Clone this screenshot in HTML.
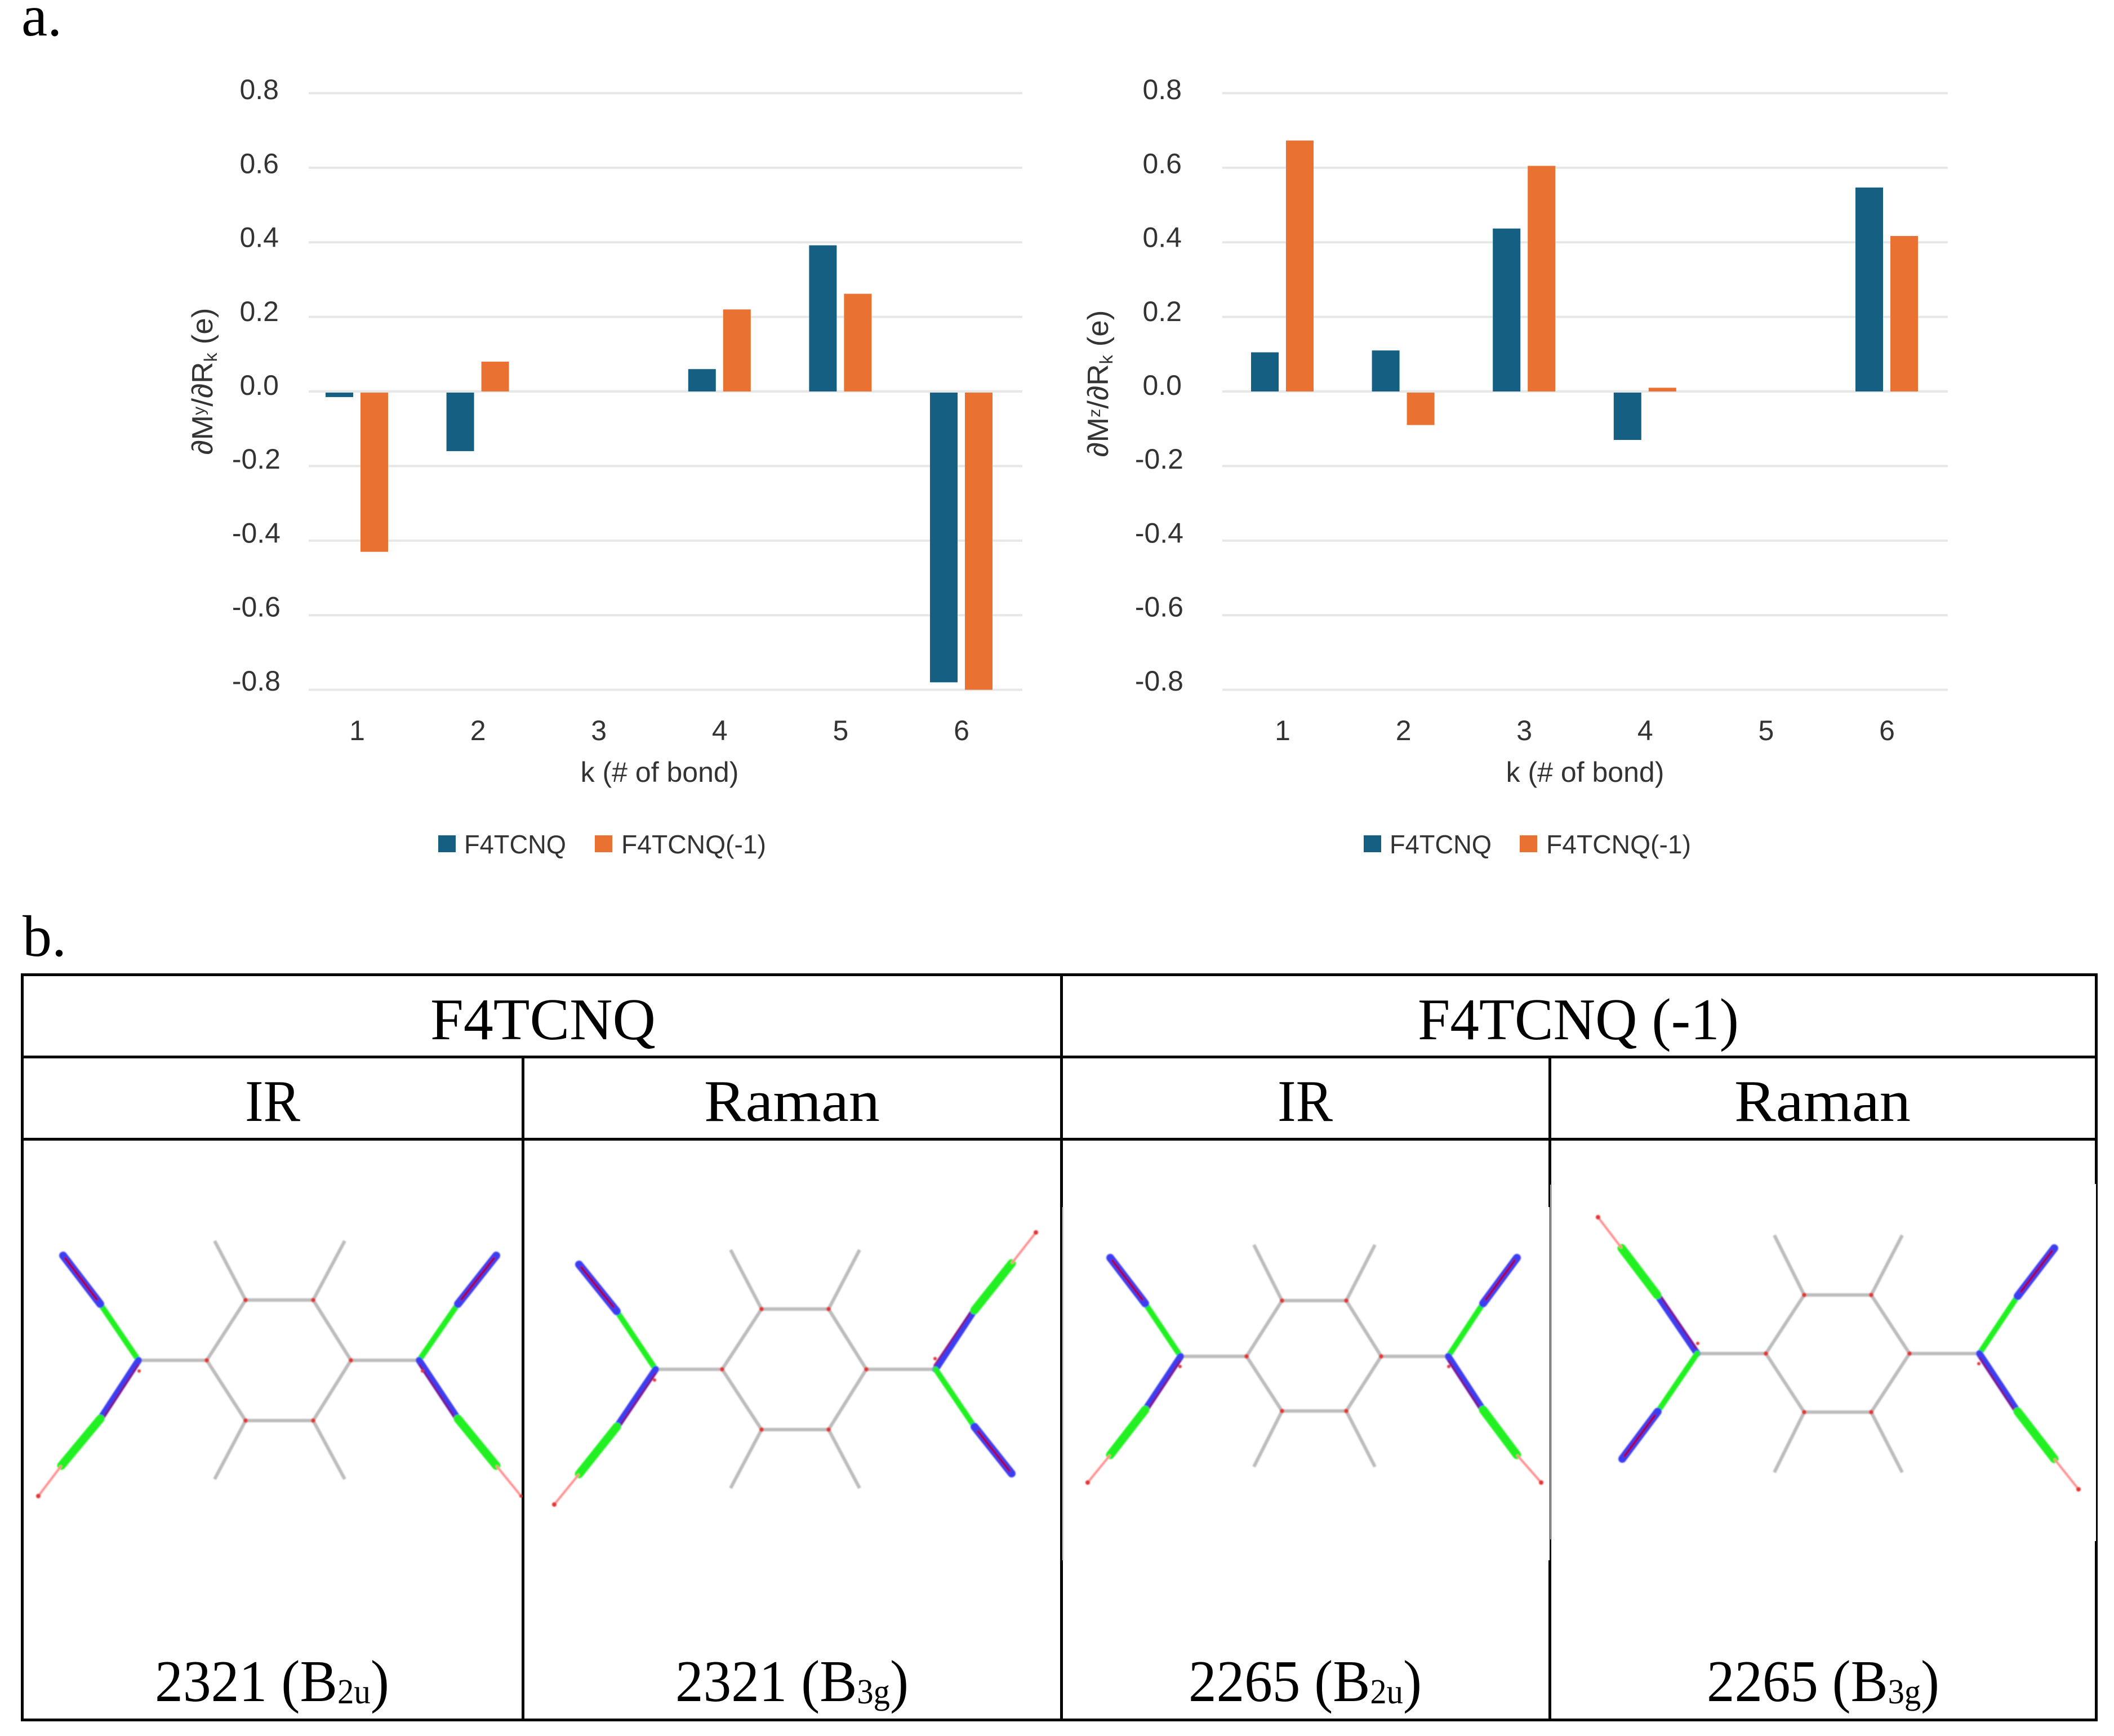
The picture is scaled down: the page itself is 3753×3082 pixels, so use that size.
<!DOCTYPE html>
<html lang="en">
<head>
<meta charset="utf-8">
<title>F4TCNQ charge flux and vibrational modes</title>
<style>
html,body{margin:0;padding:0;background:#fff;width:3753px;height:3082px;overflow:hidden}
svg{display:block}
.sans{font-family:"Liberation Sans","DejaVu Sans",sans-serif;fill:#333}
.serif{font-family:"Liberation Serif","DejaVu Serif",serif;fill:#000}
.ln{fill:#000}
.gray{fill:none;stroke:#bbb;stroke-width:6}
.g1{stroke:#22f022;stroke-width:10;stroke-linecap:round}
.g2{stroke:#22f022;stroke-width:15;stroke-linecap:round}
.b{stroke:#3c3cf0;stroke-width:12;stroke-linecap:round}
.b2{stroke:#3c3cf0;stroke-width:14;stroke-linecap:round}
.core{stroke:#a00050;stroke-width:4.5;stroke-linecap:round}
.edge{stroke:#a00050;stroke-width:3.5;opacity:.7}
.pk{stroke:#ff8f8f;stroke-width:4}
.dot{fill:#e03535}
</style>
</head>
<body>
<svg id="figure" xmlns="http://www.w3.org/2000/svg" width="3753" height="3082" viewBox="0 0 3753 3082">
<defs><filter id="soft" x="-5%" y="-5%" width="110%" height="110%"><feGaussianBlur stdDeviation="1.1"/></filter></defs>
<rect width="3753" height="3082" fill="#fff"/>

<text class="serif" x="38" y="63" font-size="104">a.</text>
<text class="serif" x="40" y="1697" font-size="104">b.</text>

<g id="chart-y"></g>
<g id="chart-z"></g>

<g>
  <g>
    <rect class="ln" x="37" y="1728" width="3687" height="5"/>
    <rect class="ln" x="37" y="1874" width="3687" height="5"/>
    <rect class="ln" x="37" y="2020" width="3687" height="5"/>
    <rect class="ln" x="37" y="3051" width="3687" height="5"/>
    <rect class="ln" x="37" y="1728" width="5" height="1328"/>
    <rect class="ln" x="926" y="1874" width="5" height="1182"/>
    <rect class="ln" x="1882" y="1728" width="5" height="415"/>
    <rect class="ln" x="1882" y="2143" width="4" height="627"/>
    <rect x="1886" y="2143" width="3" height="627" fill="#dcdcdc"/>
    <rect class="ln" x="1882" y="2770" width="5" height="286"/>
    <rect class="ln" x="2749" y="1874" width="5" height="269"/>
    <rect class="ln" x="2751" y="2143" width="1.5" height="627"/>
    <rect x="2752" y="2103" width="3" height="630" fill="#a8a8a8"/>
    <rect class="ln" x="2751" y="2733" width="3" height="37"/>
    <rect class="ln" x="2749" y="2770" width="5" height="286"/>
    <rect class="ln" x="3719" y="1728" width="5" height="374"/>
    <rect class="ln" x="3721" y="2102" width="3" height="634"/>
    <rect class="ln" x="3719" y="2736" width="5" height="320"/>
  </g>

  <text class="serif" x="764" y="1845" font-size="105" textLength="400" lengthAdjust="spacingAndGlyphs">F4TCNQ</text>
  <text class="serif" x="2517" y="1845" font-size="105" textLength="570" lengthAdjust="spacingAndGlyphs">F4TCNQ (-1)</text>
  <text class="serif" x="435" y="1990" font-size="105" textLength="98" lengthAdjust="spacingAndGlyphs">IR</text>
  <text class="serif" x="1250" y="1990" font-size="105" textLength="312" lengthAdjust="spacingAndGlyphs">Raman</text>
  <text class="serif" x="2268" y="1990" font-size="105" textLength="98" lengthAdjust="spacingAndGlyphs">IR</text>
  <text class="serif" x="3079" y="1990" font-size="105" textLength="313" lengthAdjust="spacingAndGlyphs">Raman</text>

  <text class="serif" x="275" y="3020" font-size="105" textLength="416" lengthAdjust="spacingAndGlyphs">2321 (B<tspan font-size="62" dy="4">2u</tspan><tspan dy="-4">)</tspan></text>
  <text class="serif" x="1199" y="3020" font-size="105" textLength="414" lengthAdjust="spacingAndGlyphs">2321 (B<tspan font-size="62" dy="4">3g</tspan><tspan dy="-4">)</tspan></text>
  <text class="serif" x="2110" y="3020" font-size="105" textLength="414" lengthAdjust="spacingAndGlyphs">2265 (B<tspan font-size="62" dy="4">2u</tspan><tspan dy="-4">)</tspan></text>
  <text class="serif" x="3030" y="3020" font-size="105" textLength="413" lengthAdjust="spacingAndGlyphs">2265 (B<tspan font-size="62" dy="4">3g</tspan><tspan dy="-4">)</tspan></text>

  <g filter="url(#soft)">
    <path class="gray" d="M246 2415H367L436 2308H556L623 2415H744M367 2415L436 2522H556L623 2415M436 2308L381 2203M556 2308L612 2203M436 2522L381 2626M556 2522L612 2626"/>
    <line class="g1" x1="246" y1="2415" x2="178" y2="2315"/><line class="b2" x1="178" y1="2315" x2="112" y2="2229"/><line class="core" x1="172" y1="2307" x2="116" y2="2234"/>
    <line class="b" x1="246" y1="2415" x2="178" y2="2519"/><line class="edge" x1="246" y1="2422" x2="181" y2="2521"/><line class="g2" x1="178" y1="2519" x2="109" y2="2602"/><line class="pk" x1="109" y1="2602" x2="68" y2="2656"/>
    <line class="g1" x1="744" y1="2415" x2="813" y2="2315"/><line class="b2" x1="813" y1="2315" x2="881" y2="2229"/><line class="core" x1="819" y1="2307" x2="877" y2="2234"/>
    <line class="b" x1="744" y1="2415" x2="813" y2="2519"/><line class="edge" x1="744" y1="2422" x2="810" y2="2521"/><line class="g2" x1="813" y1="2519" x2="881" y2="2602"/><line class="pk" x1="881" y1="2602" x2="925" y2="2656"/>
    <circle class="dot" cx="367" cy="2415" r="4"/><circle class="dot" cx="436" cy="2308" r="4"/><circle class="dot" cx="556" cy="2308" r="4"/><circle class="dot" cx="623" cy="2415" r="4"/><circle class="dot" cx="436" cy="2522" r="4"/><circle class="dot" cx="556" cy="2522" r="4"/><circle class="dot" cx="68" cy="2656" r="4"/><circle class="dot" cx="925" cy="2656" r="3"/><circle class="dot" cx="247" cy="2434" r="3"/><circle class="dot" cx="750" cy="2434" r="3"/>
  </g>

  <g filter="url(#soft)">
    <path class="gray" d="M1164 2431H1282L1352 2324H1471L1538 2431H1661M1282 2431L1352 2538H1471L1538 2431M1352 2324L1297 2219M1471 2324L1526 2219M1352 2538L1297 2642M1471 2538L1526 2642"/>
    <line class="g1" x1="1164" y1="2431" x2="1095" y2="2328"/><line class="b2" x1="1095" y1="2328" x2="1028" y2="2245"/><line class="core" x1="1089" y1="2320" x2="1032" y2="2250"/>
    <line class="b" x1="1164" y1="2431" x2="1095" y2="2533"/><line class="edge" x1="1164" y1="2438" x2="1098" y2="2535"/><line class="g2" x1="1095" y1="2533" x2="1028" y2="2617"/><line class="pk" x1="1028" y1="2617" x2="984" y2="2671"/>
    <line class="b" x1="1661" y1="2431" x2="1730" y2="2326"/><line class="edge" x1="1658" y1="2425" x2="1727" y2="2324"/><line class="g2" x1="1730" y1="2326" x2="1796" y2="2243"/><line class="pk" x1="1796" y1="2243" x2="1839" y2="2188"/>
    <line class="g1" x1="1661" y1="2431" x2="1730" y2="2533"/><line class="b2" x1="1730" y1="2533" x2="1796" y2="2616"/><line class="core" x1="1736" y1="2541" x2="1792" y2="2611"/>
    <circle class="dot" cx="1282" cy="2431" r="4"/><circle class="dot" cx="1352" cy="2324" r="4"/><circle class="dot" cx="1471" cy="2324" r="4"/><circle class="dot" cx="1538" cy="2431" r="4"/><circle class="dot" cx="1352" cy="2538" r="4"/><circle class="dot" cx="1471" cy="2538" r="4"/><circle class="dot" cx="984" cy="2671" r="4"/><circle class="dot" cx="1839" cy="2188" r="4"/><circle class="dot" cx="1162" cy="2450" r="3"/><circle class="dot" cx="1660" cy="2412" r="3"/>
  </g>

  <g filter="url(#soft)">
    <path class="gray" d="M2096 2408H2213L2276 2309H2390L2452 2408H2571M2213 2408L2276 2505H2390L2452 2408M2276 2309L2226 2210M2390 2309L2441 2210M2276 2505L2226 2604M2390 2505L2441 2604"/>
    <line class="g1" x1="2096" y1="2408" x2="2033" y2="2314"/><line class="b2" x1="2033" y1="2314" x2="1971" y2="2233"/><line class="core" x1="2028" y1="2307" x2="1975" y2="2238"/>
    <line class="b" x1="2096" y1="2408" x2="2033" y2="2503"/><line class="edge" x1="2096" y1="2415" x2="2036" y2="2505"/><line class="g2" x1="2033" y1="2503" x2="1971" y2="2583"/><line class="pk" x1="1971" y1="2583" x2="1931" y2="2632"/>
    <line class="g1" x1="2571" y1="2408" x2="2633" y2="2314"/><line class="b2" x1="2633" y1="2314" x2="2693" y2="2233"/><line class="core" x1="2638" y1="2307" x2="2689" y2="2238"/>
    <line class="b" x1="2571" y1="2408" x2="2633" y2="2503"/><line class="edge" x1="2571" y1="2415" x2="2630" y2="2505"/><line class="g2" x1="2633" y1="2503" x2="2693" y2="2583"/><line class="pk" x1="2693" y1="2583" x2="2736" y2="2632"/>
    <circle class="dot" cx="2213" cy="2408" r="4"/><circle class="dot" cx="2276" cy="2309" r="4"/><circle class="dot" cx="2390" cy="2309" r="4"/><circle class="dot" cx="2452" cy="2408" r="4"/><circle class="dot" cx="2276" cy="2505" r="4"/><circle class="dot" cx="2390" cy="2505" r="4"/><circle class="dot" cx="1931" cy="2632" r="4"/><circle class="dot" cx="2736" cy="2632" r="4"/><circle class="dot" cx="2095" cy="2426" r="3"/><circle class="dot" cx="2572" cy="2426" r="3"/>
  </g>

  <g filter="url(#soft)">
    <path class="gray" d="M3013 2403H3135L3203 2299H3322L3390 2403H3514M3135 2403L3203 2507H3322L3390 2403M3203 2299L3150 2193M3322 2299L3377 2193M3203 2507L3150 2614M3322 2507L3377 2614"/>
    <line class="b" x1="3013" y1="2403" x2="2942" y2="2299"/><line class="edge" x1="3012" y1="2395" x2="2945" y2="2297"/><line class="g2" x1="2942" y1="2299" x2="2879" y2="2216"/><line class="pk" x1="2879" y1="2216" x2="2837" y2="2161"/>
    <line class="g1" x1="3013" y1="2403" x2="2943" y2="2506"/><line class="b2" x1="2943" y1="2506" x2="2880" y2="2590"/><line class="core" x1="2938" y1="2513" x2="2884" y2="2585"/>
    <line class="g1" x1="3514" y1="2403" x2="3582" y2="2301"/><line class="b2" x1="3582" y1="2301" x2="3647" y2="2216"/><line class="core" x1="3588" y1="2293" x2="3643" y2="2221"/>
    <line class="b" x1="3514" y1="2403" x2="3582" y2="2506"/><line class="edge" x1="3514" y1="2410" x2="3579" y2="2508"/><line class="g2" x1="3582" y1="2506" x2="3647" y2="2590"/><line class="pk" x1="3647" y1="2590" x2="3690" y2="2644"/>
    <circle class="dot" cx="3135" cy="2403" r="4"/><circle class="dot" cx="3203" cy="2299" r="4"/><circle class="dot" cx="3322" cy="2299" r="4"/><circle class="dot" cx="3390" cy="2403" r="4"/><circle class="dot" cx="3203" cy="2507" r="4"/><circle class="dot" cx="3322" cy="2507" r="4"/><circle class="dot" cx="2837" cy="2161" r="4"/><circle class="dot" cx="3690" cy="2644" r="4"/><circle class="dot" cx="3014" cy="2385" r="3"/><circle class="dot" cx="3513" cy="2421" r="3"/>
  </g>
</g>
</svg>

<script>
// Chart data
const yTickValues = [0.8, 0.6, 0.4, 0.2, 0.0, -0.2, -0.4, -0.6, -0.8];
const categories = [1, 2, 3, 4, 5, 6];
const seriesNames = ["F4TCNQ", "F4TCNQ(-1)"];
const dMyNeutral = [-0.015, -0.16, 0, 0.06, 0.392, -0.78];
const dMyAnion = [-0.43, 0.08, 0, 0.22, 0.262, -0.80];
const dMzNeutral = [0.105, 0.11, 0.437, -0.13, 0, 0.547];
const dMzAnion = [0.673, -0.09, 0.605, 0.01, 0, 0.417];

const NS = "http://www.w3.org/2000/svg";
const BLUE = "#156082";
const ORANGE = "#E97132";

function yScale(v) { return 695 - v * 662; }
function tickLabelY(v) { return 701 - v * 656; }

function make(parent, tag, attrs, text) {
  const el = document.createElementNS(NS, tag);
  for (const k in attrs) el.setAttribute(k, attrs[k]);
  if (text !== undefined) el.textContent = text;
  parent.appendChild(el);
  return el;
}

function drawChart(rootId, key, o) {
  const root = document.getElementById(rootId);
  function xScale(i) { return o.firstCenter + i * 214.6; }

  yTickValues.forEach(function (v) {
    const grid = make(root, "rect", { x: o.gridLeft, y: yScale(v) - 2, width: o.gridRight - o.gridLeft, height: 4, fill: "#e7e7e7" });
    
    
    const label = make(root, "text", { x: o.tickRight + (v < 0 ? 3 : 0), y: tickLabelY(v), "text-anchor": "end", "font-size": 50, class: "sans" }, v.toFixed(1));
    
    
  });

  categories.forEach(function (c, i) {
    const label = make(root, "text", { x: xScale(i) + 1, y: 1314, "text-anchor": "middle", "font-size": 50, class: "sans" }, String(c));
    
    

    [[o.neutral[i], -55, BLUE], [o.anion[i], 7, ORANGE]].forEach(function (s) {
      if (s[0] === 0) return;
      const top = s[0] > 0 ? yScale(s[0]) : yScale(0) + 2;
      const bottom = s[0] > 0 ? yScale(0) : yScale(s[0]);
      const bar = make(root, "rect", { x: xScale(i) + s[1], y: top, width: 49, height: bottom - top, fill: s[2] });
      
      
    });
  });

  const xTitle = make(root, "text", { x: o.xTitleX, y: 1388, "text-anchor": "middle", "font-size": 50, class: "sans" }, "k (# of bond)");
  
  

  const yTitle = make(root, "text", { transform: "translate(" + o.yTitleX + "," + o.yTitleY + ") rotate(-90)", "text-anchor": "middle", "font-size": 52, textLength: 261, lengthAdjust: "spacingAndGlyphs", class: "sans" });
  
  
  make(yTitle, "tspan", {}, "\u2202M");
  make(yTitle, "tspan", { "font-size": 30, dy: -14 }, key);
  make(yTitle, "tspan", { dy: 14 }, "/\u2202R");
  make(yTitle, "tspan", { "font-size": 32, dy: 8 }, "k");
  make(yTitle, "tspan", { dy: -8 }, " (e)");

  const swatch1 = make(root, "rect", { x: o.legend1, y: 1483, width: 31, height: 30, fill: BLUE });
  
  
  const text1 = make(root, "text", { x: o.legend1 + 46, y: 1515, "font-size": 46, textLength: 181, lengthAdjust: "spacingAndGlyphs", class: "sans" }, seriesNames[0]);
  
  
  const swatch2 = make(root, "rect", { x: o.legend2, y: 1483, width: 31, height: 30, fill: ORANGE });
  
  
  const text2 = make(root, "text", { x: o.legend2 + 47, y: 1515, "font-size": 46, textLength: 257, lengthAdjust: "spacingAndGlyphs", class: "sans" }, seriesNames[1]);
  
  
}

drawChart("chart-y", "y", {
  neutral: dMyNeutral, anion: dMyAnion,
  firstCenter: 633, gridLeft: 548, gridRight: 1815, tickRight: 495,
  xTitleX: 1171, yTitleX: 377, yTitleY: 677, legend1: 778, legend2: 1056
});
drawChart("chart-z", "z", {
  neutral: dMzNeutral, anion: dMzAnion,
  firstCenter: 2276, gridLeft: 2170, gridRight: 3458, tickRight: 2098,
  xTitleX: 2814, yTitleX: 1967, yTitleY: 681, legend1: 2421, legend2: 2698
});
</script>
</body>
</html>
